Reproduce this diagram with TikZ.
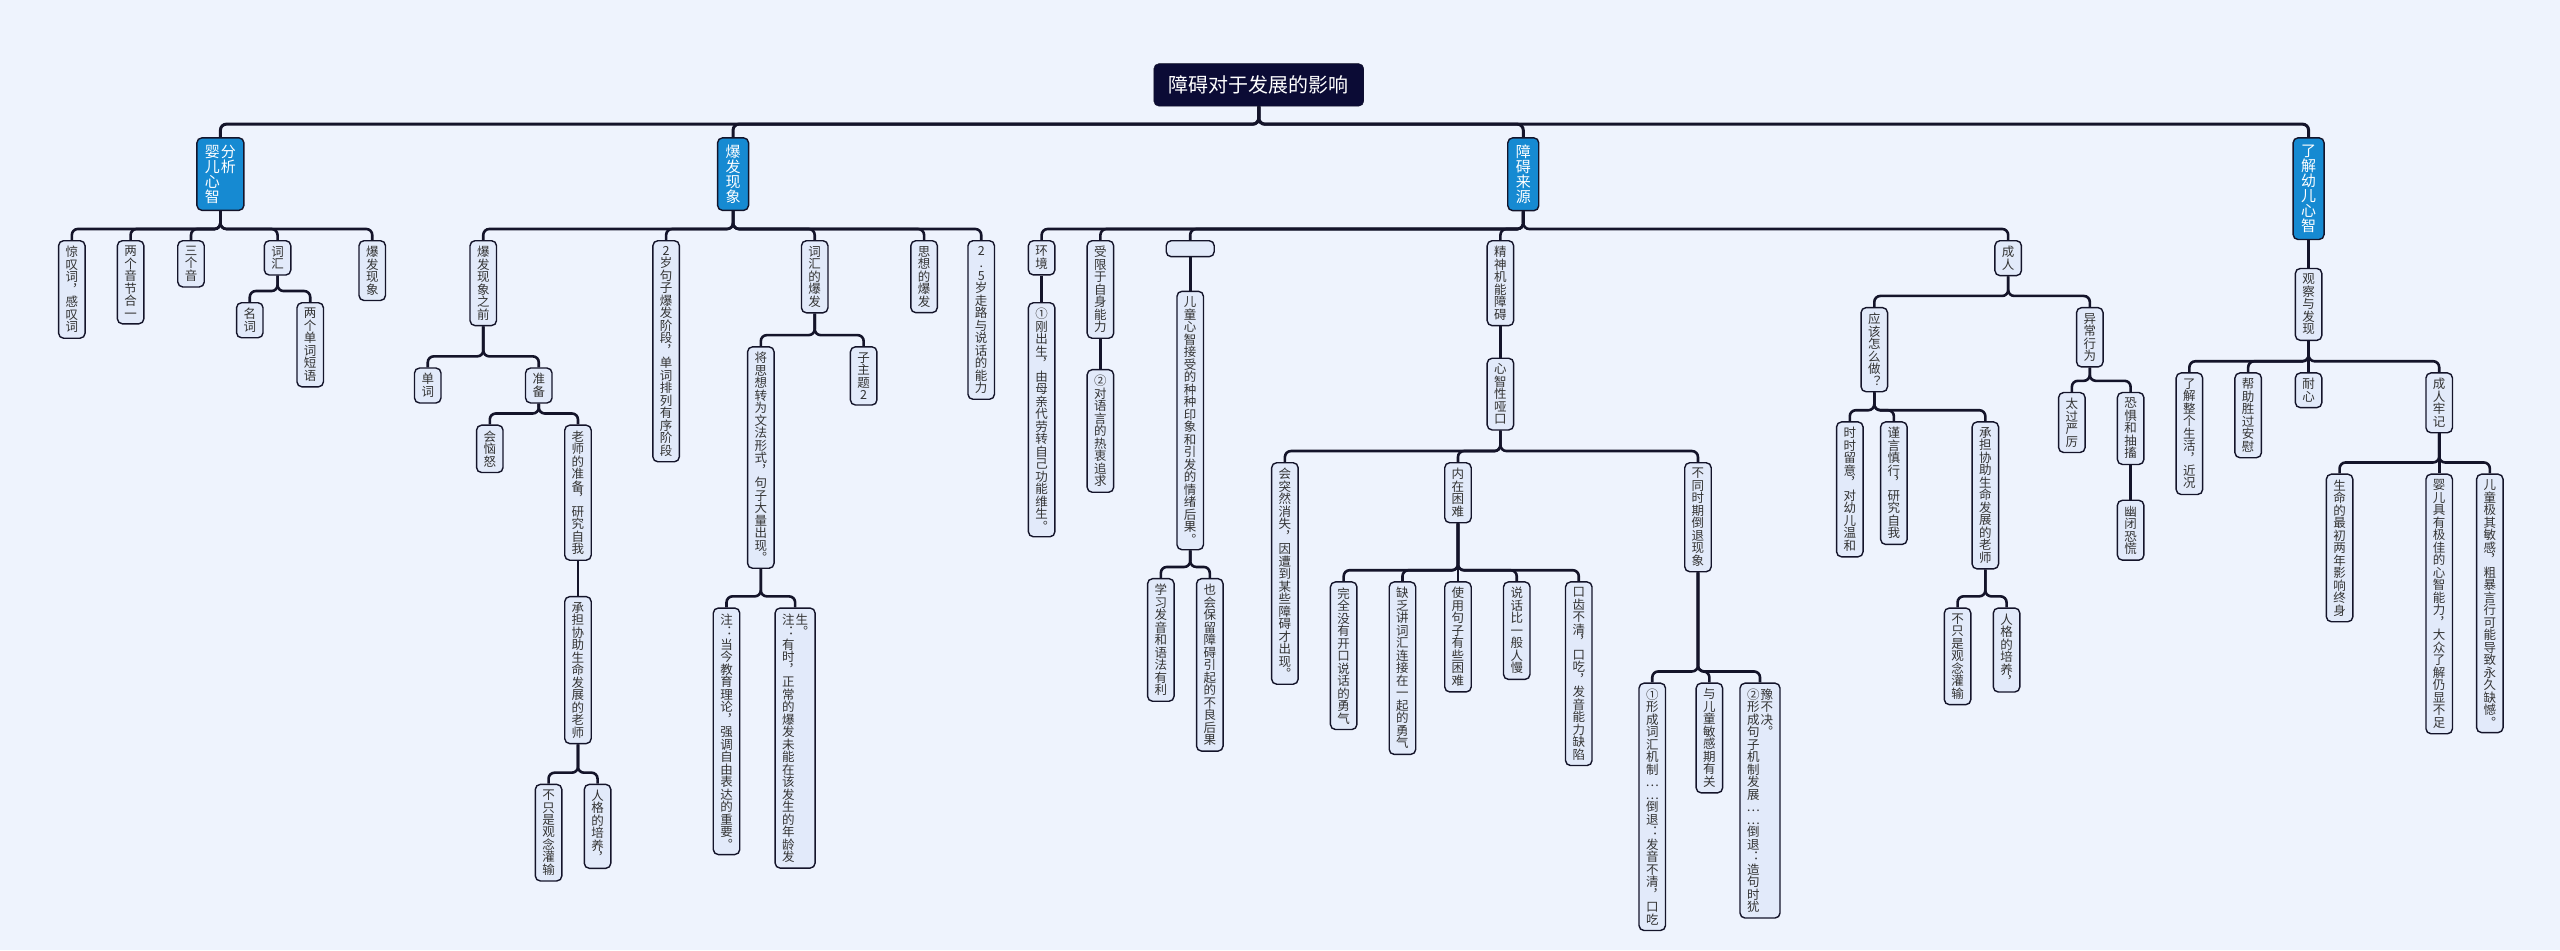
\documentclass[tikz,border=0pt]{standalone}
\usepackage{fontspec}
\newfontfamily\cjk[RawFeature=+vert]{Noto Sans CJK SC}
\newfontfamily\cjkh{Noto Sans CJK SC}
\makeatletter
\def\vtsplitgo#1{\ifx#1\relax\else\hbox to 1em{\hss#1\hss}\expandafter\vtsplitgo\fi}
\newcommand\vtcol[1]{\vtop{\hsize=1em\baselineskip=1.0em\lineskip=0pt\vtsplitgo#1\relax}}
\makeatother
\definecolor{bg}{HTML}{EEF3FD}
\definecolor{nodefill}{HTML}{E2EAFA}
\definecolor{edge}{HTML}{14142A}
\definecolor{rootfill}{HTML}{0B0B35}
\definecolor{mainblue}{HTML}{168AD2}
\tikzset{
  box/.style={draw=edge,line width=1.4pt,rounded corners=5pt,fill=nodefill,anchor=north,
    inner xsep=7pt,inner ysep=5.5pt,font=\cjk\fontsize{12.5}{13}\selectfont,text=black!80},
  mainbox/.style={box,fill=mainblue,text=white,font=\cjk\fontsize{15}{17}\selectfont,inner xsep=8pt,inner ysep=7pt},
  conn/.style={draw=edge,line width=2.6pt,rounded corners=6pt},
}
\newcommand\cn[3][11]{\draw[conn] (#2.south) |- ([yshift=#1pt]#3.north) -- (#3.north);}
\begin{document}
\begin{tikzpicture}[x=1.633pt,y=-1.633pt]
\fill[bg] (0,0) rectangle (1568,582);
\useasboundingbox (0,0) rectangle (1568,582);
\node[draw=edge,fill=rootfill,rounded corners=5pt,text=white,font=\cjkh\fontsize{20}{23}\selectfont,
  inner xsep=15pt,inner ysep=12pt] (r) at (771,52) {障碍对于发展的影响};
% main branches
\node[mainbox] (a) at (135,84) {\vtcol{婴儿心智}\hspace{1pt}\vtcol{分析}};
\node[mainbox] (b) at (449,84) {\vtcol{爆发现象}};
\node[mainbox] (c) at (933,84) {\vtcol{障碍来源}};
\node[mainbox] (d) at (1414,84) {\vtcol{了解幼儿心智}};
\foreach \m in {a,b,c,d}{\draw[conn,line width=3pt] (r.south) |- ([yshift=13pt]\m.north) -- (\m.north);}
% group a
\node[box] (a1) at (44,147) {\vtcol{惊叹词，感叹词}};
\node[box] (a2) at (80,147) {\vtcol{两个音节合一}};
\node[box] (a3) at (117,147) {\vtcol{三个音}};
\node[box] (a4) at (170,147) {\vtcol{词汇}};
\node[box] (a5) at (228,147) {\vtcol{爆发现象}};
\foreach \m in {a1,a2,a3,a4,a5}{\cn{a}{\m}}
\node[box] (a41) at (153,185) {\vtcol{名词}};
\node[box] (a42) at (190,185) {\vtcol{两个单词短语}};
\cn{a4}{a41}\cn{a4}{a42}
% group b
\node[box] (b1) at (296,147) {\vtcol{爆发现象之前}};
\node[box] (b2) at (408,147) {\vtcol{2岁句子爆发阶段，单词排列有序阶段}};
\node[box] (b3) at (499,147) {\vtcol{词汇的爆发}};
\node[box] (b4) at (566,147) {\vtcol{思想的爆发}};
\node[box] (b5) at (601,147) {\vtcol{2.5岁走路与说话的能力}};
\foreach \m in {b1,b2,b3,b4,b5}{\cn{b}{\m}}
\node[box] (b11) at (262,225) {\vtcol{单词}};
\node[box] (b12) at (330,225) {\vtcol{准备}};
\cn{b1}{b11}\cn{b1}{b12}
\node[box] (b121) at (300,260) {\vtcol{会恼怒}};
\node[box] (b122) at (354,260) {\vtcol{老师的准备，研究自我}};
\cn{b12}{b121}\cn{b12}{b122}
\node[box] (b123) at (354,365) {\vtcol{承担协助生命发展的老师}};
\cn{b122}{b123}
\node[box] (b1231) at (336,480) {\vtcol{不只是观念灌输}};
\node[box] (b1232) at (366,480) {\vtcol{人格的培养，}};
\cn{b123}{b1231}\cn{b123}{b1232}
\node[box] (b31) at (466,212) {\vtcol{将思想转为文法形式，句子大量出现。}};
\node[box] (b32) at (529,212) {\vtcol{子主题2}};
\cn{b3}{b31}\cn{b3}{b32}
\node[box] (b311) at (445,372) {\vtcol{注：当今教育理论，强调自由表达的重要。}};
\node[box] (b312) at (487,372) {\vtcol{注：有时，正常的爆发未能在该发生的年龄发}\hspace{1pt}\vtcol{生。}};
\cn{b31}{b311}\cn{b31}{b312}
% group c
\node[box] (c1) at (638,147) {\vtcol{环境}};
\node[box] (c2) at (674,147) {\vtcol{受限于自身能力}};
\node[box,minimum width=48pt,minimum height=16pt,inner sep=0pt] (c3) at (729,147) {};
\node[box] (c4) at (919,147) {\vtcol{精神机能障碍}};
\node[box] (c5) at (1230,147) {\vtcol{成人}};
\foreach \m in {c1,c2,c3,c4,c5}{\cn{c}{\m}}
\node[box] (c11) at (638,185) {\vtcol{①刚出生，由母亲代劳转自己功能维生。}};
\cn{c1}{c11}
\node[box] (c21) at (674,226) {\vtcol{②对语言的热衷追求}};
\cn{c2}{c21}
\node[box] (c31) at (729,178) {\vtcol{儿童心智接受的种种印象和引发的情绪后果。}};
\cn{c3}{c31}
\node[box] (c311) at (711,354) {\vtcol{学习发音和语法有利}};
\node[box] (c312) at (741,354) {\vtcol{也会保留障碍引起的不良后果}};
\cn{c31}{c311}\cn{c31}{c312}
\node[box] (c41) at (919,219) {\vtcol{心智性哑口}};
\cn{c4}{c41}
\node[box] (c411) at (787,283) {\vtcol{会突然消失，因遭到某些障碍才出现。}};
\node[box] (c412) at (893,283) {\vtcol{内在困难}};
\node[box] (c413) at (1040,283) {\vtcol{不同时期倒退现象}};
\cn{c41}{c411}\cn{c41}{c412}\cn{c41}{c413}
\node[box] (c4121) at (823,356) {\vtcol{完全没有开口说话的勇气}};
\node[box] (c4122) at (859,356) {\vtcol{缺乏讲词汇连接在一起的勇气}};
\node[box] (c4123) at (893,356) {\vtcol{使用句子有些困难}};
\node[box] (c4124) at (929,356) {\vtcol{说话比一般人慢}};
\node[box] (c4125) at (967,356) {\vtcol{口齿不清，口吃，发音能力缺陷}};
\foreach \m in {c4121,c4122,c4123,c4124,c4125}{\cn{c412}{\m}}
\node[box] (c4131) at (1012,418) {\vtcol{①形成词汇机制……倒退：发音不清，口吃}};
\node[box] (c4132) at (1047,418) {\vtcol{与儿童敏感期有关}};
\node[box] (c4133) at (1078,418) {\vtcol{②形成句子机制发展……倒退：造句时犹}\hspace{1pt}\vtcol{豫不决。}};
\foreach \m in {c4131,c4132,c4133}{\cn{c413}{\m}}
\node[box] (c51) at (1148,188) {\vtcol{应该怎么做？}};
\node[box] (c52) at (1280,188) {\vtcol{异常行为}};
\cn{c5}{c51}\cn{c5}{c52}
\node[box] (c511) at (1133,258) {\vtcol{时时留意，对幼儿温和}};
\node[box] (c512) at (1160,258) {\vtcol{谨言慎行，研究自我}};
\node[box] (c513) at (1216,258) {\vtcol{承担协助生命发展的老师}};
\foreach \m in {c511,c512,c513}{\cn{c51}{\m}}
\node[box] (c5131) at (1199,372) {\vtcol{不只是观念灌输}};
\node[box] (c5132) at (1229,372) {\vtcol{人格的培养，}};
\cn{c513}{c5131}\cn{c513}{c5132}
\node[box] (c521) at (1269,240) {\vtcol{太过严厉}};
\node[box] (c522) at (1305,240) {\vtcol{恐惧和抽搐}};
\cn{c52}{c521}\cn{c52}{c522}
\node[box] (c5221) at (1305,306) {\vtcol{幽闭恐慌}};
\cn{c522}{c5221}
% group d
\node[box] (d1) at (1414,164) {\vtcol{观察与发现}};
\cn{d}{d1}
\node[box] (d11) at (1341,228) {\vtcol{了解整个生活，近况}};
\node[box] (d12) at (1377,228) {\vtcol{帮助胜过安慰}};
\node[box] (d13) at (1414,228) {\vtcol{耐心}};
\node[box] (d14) at (1494,228) {\vtcol{成人牢记}};
\foreach \m in {d11,d12,d13,d14}{\cn{d1}{\m}}
\node[box] (d141) at (1433,290) {\vtcol{生命的最初两年影响终身}};
\node[box] (d142) at (1494,290) {\vtcol{婴儿具有极佳的心智能力，大众了解仍显不足}};
\node[box] (d143) at (1525,290) {\vtcol{儿童极其敏感，粗暴言行可能导致永久缺憾。}};
\foreach \m in {d141,d142,d143}{\cn{d14}{\m}}
\end{tikzpicture}
\end{document}
